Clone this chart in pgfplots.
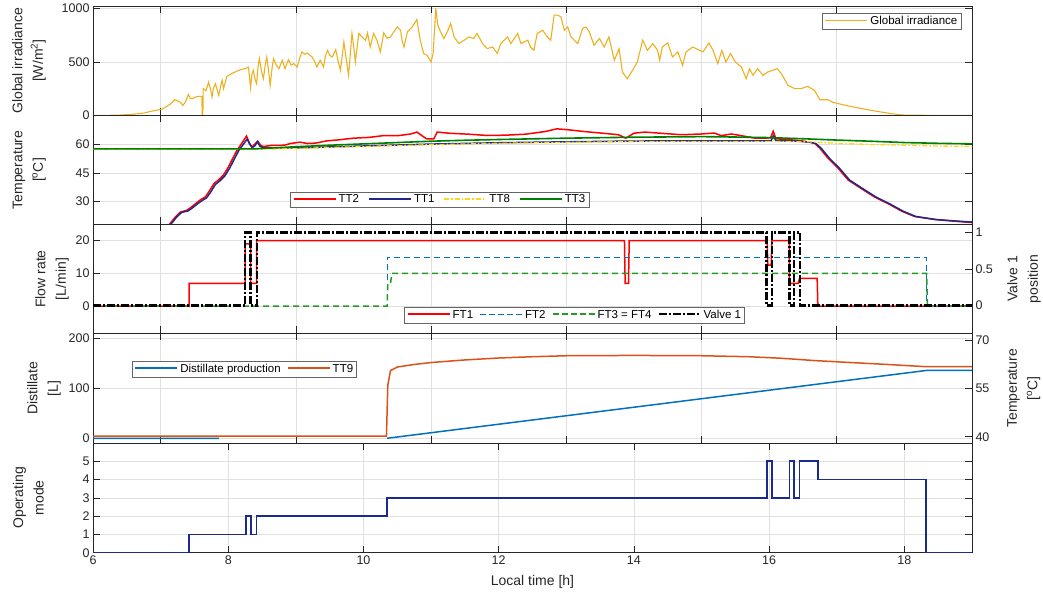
\documentclass[border=0pt]{standalone}
\usepackage{fontspec}
\setmainfont{Liberation Sans}
\usepackage{pgfplots}
\pgfplotsset{compat=1.18}
\definecolor{txt}{rgb}{0.15,0.15,0.15}
\definecolor{irr}{rgb}{0.929,0.694,0.125}
\definecolor{ttone}{rgb}{0.12,0.16,0.55}
\definecolor{tteight}{rgb}{1,0.84,0.1}
\definecolor{ttthree}{rgb}{0,0.5,0}
\definecolor{fttwo}{rgb}{0,0.447,0.741}
\definecolor{ftthree}{rgb}{0.15,0.6,0.15}
\definecolor{ttnine}{rgb}{0.851,0.325,0.098}
\definecolor{distc}{rgb}{0,0.447,0.741}
\definecolor{modec}{rgb}{0.1,0.17,0.55}
\definecolor{gridc}{rgb}{0.88,0.88,0.88}
\definecolor{legc}{rgb}{0.4,0.4,0.4}
% legend samples set as coloured rules in the entry text
\newcommand{\lgr}[2]{\rule[\dimexpr 3.9pt-#2/2\relax]{#1}{#2}}%
\newcommand{\lgs}[2]{\textcolor{#1}{\lgr{42pt}{#2}}}%
\newcommand{\lgd}[2]{\textcolor{#1}{\lgr{6pt}{#2}\hspace{3pt}\lgr{6pt}{#2}\hspace{3pt}\lgr{6pt}{#2}\hspace{3pt}\lgr{6pt}{#2}\hspace{3pt}\lgr{6pt}{#2}}}%
\newcommand{\lgvu}{\lgr{8pt}{2.2pt}\hspace{2pt}\lgr{2pt}{2.2pt}\hspace{2pt}}%
\newcommand{\lgv}{\textcolor{black}{\lgvu\lgvu\lgvu}}%
\newcommand{\lgyu}{\lgr{5pt}{1.5pt}\hspace{2pt}\lgr{1.5pt}{1.5pt}\hspace{2pt}}%
\newcommand{\lgy}{\textcolor{tteight}{\lgyu\lgyu\lgyu\lgyu}}%
\newcommand{\noimg}{\addlegendimage{legend image code/.code={}}}
\pgfplotsset{
  panel/.style={
    scale only axis, width=879pt, xmin=6, xmax=19, no markers,
    axis line style={draw=txt, line width=0.9pt},
    every tick/.style={draw=txt, line width=0.6pt},
    major tick length=7pt, tick align=inside,
    xmajorgrids, ymajorgrids, major grid style={draw=gridc, line width=0.6pt},
    tick label style={font=\fontsize{12.5}{14}\selectfont, color=txt},
    label style={font=\fontsize{14}{20.5}\selectfont, color=txt, align=center, inner sep=1pt},
    legend style={font=\fontsize{11.5}{13}\selectfont, draw=legc, fill=white,
      legend columns=-1, inner xsep=2pt, inner ysep=1.5pt, nodes={inner sep=1.5pt},
      /tikz/every even column/.append style={column sep=4pt}},
  },
  upper/.style={panel, xtick={7,9,11,13,15,17}, xticklabels={}},
}
\begin{document}
\begin{tikzpicture}[x=1pt,y=1pt]
\path[use as bounding box] (0,0) rectangle (1043,596);
% ---------------- Panel 1: irradiance
\begin{axis}[upper, at={(93pt,480.5pt)}, anchor=south west, height=109.5pt,
  ymin=0, ymax=1020, ytick={0,500,1000}, yticklabels={0,500,1000},
  ylabel={Global irradiance\\{[W/m\textsuperscript{2}]}},
  ylabel style={at={(axis description cs:-0.0523,0.5)}, anchor=south},
  legend style={at={(axis description cs:0.9875,0.939)}, anchor=north east}]
\noimg
\addlegendentry{\lgs{irr}{1.6pt}\hspace{3pt}Global irradiance}
\addplot[irr, line width=1.1pt, forget plot] table {
x y
6.00 0
6.20 1
6.40 4
6.60 12
6.75 22
6.85 38
6.95 50
7.02 58
7.09 84
7.15 110
7.21 147
7.26 134
7.30 118
7.33 93
7.37 130
7.41 196
7.44 160
7.47 156
7.51 171
7.56 178
7.61 178
7.615 0
7.625 0
7.63 250
7.67 230
7.71 311
7.74 240
7.76 171
7.78 250
7.81 296
7.84 230
7.86 187
7.89 280
7.91 327
7.93 250
7.98 364
8.05 390
8.13 414
8.20 430
8.25 436
8.30 451
8.33 259
8.35 380
8.37 421
8.40 330
8.42 296
8.44 450
8.46 530
8.49 420
8.52 343
8.55 480
8.57 545
8.60 400
8.62 280
8.65 450
8.67 530
8.71 470
8.75 436
8.80 514
8.84 436
8.89 520
8.93 470
8.97 483
9.02 451
9.06 540
9.09 592
9.13 570
9.17 582
9.21 560
9.24 545
9.28 500
9.31 451
9.36 514
9.41 451
9.44 560
9.47 607
9.50 560
9.54 545
9.59 614
9.62 520
9.66 421
9.71 685
9.74 550
9.78 374
9.83 764
9.86 620
9.88 498
9.93 764
9.98 732
10.03 700
10.06 769
10.10 638
10.15 764
10.20 700
10.25 592
10.30 769
10.35 720
10.40 732
10.45 780
10.50 825
10.55 794
10.57 701
10.60 638
10.65 779
10.72 825
10.79 894
10.84 701
10.89 577
10.94 561
11.00 498
11.03 577
11.07 997
11.10 841
11.14 779
11.19 717
11.24 779
11.29 857
11.34 732
11.41 670
11.49 701
11.56 732
11.63 717
11.68 764
11.76 670
11.83 623
11.91 638
11.98 577
12.03 670
12.13 732
12.18 670
12.28 764
12.33 670
12.43 701
12.47 638
12.52 607
12.57 764
12.65 794
12.72 732
12.77 701
12.82 935
12.87 935
12.92 919
12.97 794
13.02 825
13.07 732
13.12 701
13.17 670
13.24 810
13.29 825
13.34 779
13.41 654
13.49 717
13.56 638
13.63 732
13.71 514
13.78 623
13.83 405
13.90 343
13.98 421
14.05 498
14.13 701
14.20 607
14.28 670
14.35 607
14.38 514
14.42 638
14.50 676
14.57 545
14.65 592
14.72 467
14.77 592
14.87 638
14.97 607
15.02 592
15.11 676
15.17 607
15.24 483
15.30 607
15.36 498
15.43 577
15.50 498
15.59 451
15.66 343
15.71 436
15.76 374
15.83 436
15.91 374
15.98 405
16.05 421
16.12 436
16.18 390
16.28 280
16.38 250
16.47 250
16.57 271
16.67 234
16.75 147
16.87 147
16.94 124
17.07 103
17.21 84
17.41 59
17.61 37
17.81 16
18.00 3
18.50 1
19.00 1
};
\end{axis}
% ---------------- Panel 2: temperatures
\begin{axis}[upper, at={(93pt,371.5pt)}, anchor=south west, height=109pt,
  ymin=18, ymax=75.2, ytick={30,45,60}, yticklabels={30,45,60},
  ylabel={Temperature\\{[\textsuperscript{o}C]}},
  ylabel style={at={(axis description cs:-0.0523,0.5)}, anchor=south},
  legend style={at={(axis description cs:0.224,0.301)}, anchor=north west,
    /tikz/every even column/.append style={column sep=7pt}}]
\noimg
\addlegendentry{\lgs{red}{1.8pt}\hspace{3pt}TT2}
\noimg
\addlegendentry{\lgs{ttone}{1.8pt}\hspace{3pt}TT1}
\noimg
\addlegendentry{\lgy\hspace{3pt}TT8}
\noimg
\addlegendentry{\lgs{ttthree}{1.8pt}\hspace{3pt}TT3}
\addplot[red, line width=1.5pt, forget plot] table {
x y
7.10 16
7.14 18.5
7.22 22
7.29 24.5
7.39 25.5
7.45 27
7.52 29
7.59 31
7.66 32.4
7.72 35.5
7.79 39.5
7.86 41.5
7.93 44
8.00 48
8.08 53.6
8.13 57
8.18 59.5
8.27 64.4
8.31 61
8.35 58.4
8.40 60.5
8.44 61.6
8.48 59.5
8.52 58.9
8.63 59.5
8.83 59.6
8.92 60.5
9.06 61.2
9.17 60.5
9.29 60.7
9.46 61.9
9.63 62.4
9.85 63.3
10.08 63.7
10.31 64.7
10.53 64.7
10.70 65.5
10.79 66.5
10.85 65
10.93 63
11.04 62.9
11.09 66.5
11.27 65.9
11.55 65.4
11.84 64.7
12.12 64.9
12.40 65.4
12.69 66.8
12.86 68.2
13.03 67.7
13.26 66.8
13.54 65.9
13.77 65.1
13.88 63.3
14.00 65.9
14.16 66.5
14.39 65.9
14.70 65.1
15.00 65.5
15.19 66.0
15.29 64.6
15.44 65.5
15.59 64.6
15.79 63.3
15.94 63.3
16.02 63.5
16.06 66.9
16.10 63
16.30 62.5
16.50 61.8
16.67 60.7
16.75 58
16.87 52.8
17.02 47.5
17.17 41.3
17.36 36.9
17.56 32.4
17.76 28.9
17.96 25
18.15 22.2
18.45 20.6
18.75 19.7
19.00 19
};
\addplot[ttone, line width=1.5pt, forget plot] table {
x y
7.12 17
7.16 18.5
7.24 22
7.31 24.3
7.41 25.2
7.47 26.7
7.54 28.7
7.61 30.5
7.68 32
7.74 35
7.81 39
7.88 41
7.95 43.5
8.02 47.5
8.10 53
8.15 56.5
8.20 59
8.28 62.8
8.32 60
8.36 58.5
8.40 59.5
8.43 61.5
8.47 59
8.52 58.3
9.00 58.2
10.00 59.2
11.00 60.2
12.00 60.9
13.00 61.4
14.00 61.8
15.00 61.9
15.95 61.9
16.03 62
16.06 64.5
16.10 62
16.40 61.8
16.60 61.2
16.69 60.5
16.77 58
16.89 52.8
17.04 47.5
17.19 41.3
17.38 36.9
17.58 32.4
17.78 28.9
17.98 25
18.17 22.2
18.47 20.6
18.77 19.8
19.00 19.3
};
\addplot[tteight, line width=1.3pt, dash pattern=on 5pt off 2pt on 1.5pt off 2pt, forget plot] table {
x y
6.00 57.5
8.40 57.5
9.00 57.9
10.00 58.9
11.00 59.9
12.00 60.6
13.00 61.1
14.00 61.5
15.00 61.6
16.00 61.6
16.60 61.4
17.00 60.6
17.60 59.9
18.30 59.3
19.00 58.9
};
\addplot[ttthree, line width=1.6pt, forget plot] table {
x y
6.00 57.7
8.40 57.7
9.00 58.8
9.50 59.6
10.00 60.3
10.50 61.0
11.00 61.7
11.50 62.2
12.00 62.6
13.00 63.3
14.00 63.8
15.00 64.1
15.50 63.9
16.00 63.6
16.50 63.0
17.00 62.3
17.50 61.7
18.00 61.0
18.50 60.6
19.00 60.3
};
\end{axis}
% ---------------- Panel 3: flow rates (left)
\begin{axis}[upper, at={(93pt,262.5pt)}, anchor=south west, height=109pt,
  ymin=-8.3, ymax=24.9, ytick={0,10,20}, yticklabels={0,10,20}, ytick pos=left,
  ylabel={Flow rate\\{[L/min]}},
  ylabel style={at={(axis description cs:-0.0262,0.5)}, anchor=south}]
\addplot[red, line width=1.5pt] table {
x y
6.00 0
7.42 0
7.42 7
8.25 7
8.25 19
8.33 19
8.33 7
8.42 7
8.42 20
13.86 20
13.87 7
13.92 7
13.93 20
15.97 20
15.98 12.5
16.03 12.5
16.04 20
16.30 20
16.30 7
16.43 7
16.45 8.5
16.71 8.5
16.72 0
19.00 0
};
\addplot[fttwo, line width=1pt, dash pattern=on 6pt off 4pt] table {
x y
6.00 0
10.35 0
10.35 14.9
18.33 14.9
18.33 0
19.00 0
};
\addplot[ftthree, line width=1.5pt, dash pattern=on 6pt off 4pt] table {
x y
6.00 0
10.35 0
10.36 6.9
10.40 6.9
10.42 10
18.33 10
18.34 0
19.00 0
};
\end{axis}
% ---------------- Panel 3: valve (right)
\begin{axis}[panel, at={(93pt,262.5pt)}, anchor=south west, height=109pt,
  axis x line=none, axis y line*=right, xmajorgrids=false, ymajorgrids=false,
  ymin=-0.385, ymax=1.11, ytick={0,0.5,1}, yticklabels={0,0.5,1},
  ylabel={Valve 1\\position},
  ylabel style={at={(axis description cs:1.0387,0.5)}, anchor=north},
  legend style={at={(axis description cs:0.3538,0.2459)}, anchor=north west}]
\noimg
\addlegendentry{\lgs{red}{1.8pt}\hspace{3pt}FT1}
\noimg
\addlegendentry{\lgd{fttwo}{1.2pt}\hspace{3pt}FT2}
\noimg
\addlegendentry{\lgd{ftthree}{1.8pt}\hspace{3pt}FT3 = FT4}
\noimg
\addlegendentry{\lgv\hspace{3pt}Valve 1}
\addplot[black, line width=2.2pt, dash pattern=on 8pt off 2pt on 2pt off 2pt, forget plot] table {
x y
6.00 0
8.25 0
8.25 1
8.33 1
8.33 0
8.42 0
8.42 1
15.96 1
15.96 0
16.04 0
16.04 1
16.30 1
16.30 0
16.37 0
16.37 1
16.46 1
16.46 0
19.00 0
};
\end{axis}
% ---------------- Panel 4: distillate (left)
\begin{axis}[upper, at={(93pt,153pt)}, anchor=south west, height=109.5pt,
  ymin=-9.5, ymax=210, ytick={0,100,200}, yticklabels={0,100,200}, ytick pos=left,
  ylabel={Distillate\\{[L]}}, unbounded coords=jump,
  ylabel style={at={(axis description cs:-0.0353,0.5)}, anchor=south}]
\addplot[distc, line width=1.5pt] table {
x y
6.00 0
7.86 0
7.87 nan
10.35 0
18.33 136
19.00 136
};
\end{axis}
% ---------------- Panel 4: TT9 (right)
\begin{axis}[panel, at={(93pt,153pt)}, anchor=south west, height=109.5pt,
  axis x line=none, axis y line*=right, xmajorgrids=false, ymajorgrids=false,
  ymin=38.05, ymax=72, ytick={40,55,70}, yticklabels={40,55,70},
  ylabel={Temperature\\{[\textsuperscript{o}C]}},
  ylabel style={at={(axis description cs:1.0387,0.5)}, anchor=north},
  legend style={at={(axis description cs:0.044,0.7516)}, anchor=north west}]
\noimg
\addlegendentry{\lgs{distc}{1.8pt}\hspace{3pt}Distillate production}
\noimg
\addlegendentry{\lgs{ttnine}{1.8pt}\hspace{3pt}TT9}
\addplot[ttnine, line width=1.5pt, forget plot] table {
x y
6.00 40.2
10.34 40.2
10.36 56
10.40 60.5
10.50 61.6
10.75 62.4
11.00 63.0
11.50 63.8
12.00 64.4
12.50 64.8
13.00 65.1
14.00 65.2
15.00 65.1
15.70 64.8
16.20 64.3
16.67 63.6
17.20 63.0
17.66 62.5
18.33 61.7
19.00 61.7
};
\end{axis}
% ---------------- Panel 5: operating mode
\begin{axis}[panel, at={(93pt,43.3pt)}, anchor=south west, height=109.7pt,
  xtick={6,8,10,12,14,16,18}, xticklabels={6,8,10,12,14,16,18},
  ymin=0, ymax=6, ytick={0,1,2,3,4,5}, yticklabels={0,1,2,3,4,5},
  ylabel={Operating\\mode},
  ylabel style={at={(axis description cs:-0.0546,0.5)}, anchor=south},
  xlabel={Local time [h]},
  xlabel style={at={(axis description cs:0.5,-0.267)}, anchor=center}]
\addplot[modec, line width=1.6pt] table {
x y
6.00 0
7.42 0
7.42 1
8.26 1
8.26 2
8.34 2
8.34 1
8.42 1
8.42 2
10.35 2
10.35 3
15.97 3
15.97 5
16.04 5
16.04 3
16.30 3
16.30 5
16.37 5
16.37 3
16.45 3
16.45 5
16.72 5
16.72 4
18.32 4
18.32 0
19.00 0
};
\end{axis}
\end{tikzpicture}
\end{document}
